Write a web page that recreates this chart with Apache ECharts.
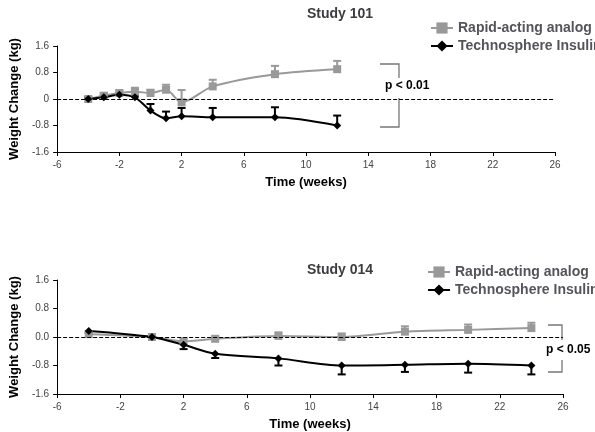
<!DOCTYPE html><html><head><meta charset="utf-8"><script src="https://cdn.jsdelivr.net/npm/echarts@6/dist/echarts.min.js"></script></head><body style="margin:0"><div id="c" style="width:595px;height:432px"></div><script>
const xA=[-4,-3,-2,-1,0,1,2,4,8,12];
const rapidA=[0,0.1,0.18,0.22,0.18,0.28,-0.1,0.38,0.75,0.9];
const rapidAErr=[0.05,0.08,0.07,0.12,0.1,0.15,0.37,0.2,0.25,0.25];
const techA=[0,0.05,0.13,0.05,-0.35,-0.58,-0.52,-0.55,-0.55,-0.8];
const techAErr=[0.05,0.05,0.05,0.05,0.2,0.2,0.25,0.28,0.3,0.3];
const xB=[-4,0,2,4,8,12,16,20,24];
const rapidB=[0.08,0,-0.12,-0.05,0.03,0,0.15,0.2,0.25];
const rapidBErr=[0.05,0.05,0.08,0.06,0.1,0.1,0.15,0.15,0.15];
const techB=[0.17,0,-0.22,-0.47,-0.6,-0.8,-0.78,-0.75,-0.8];
const techBErr=[0.05,0.05,0.12,0.12,0.2,0.25,0.2,0.25,0.25];
const yTicksA=v=>v===0?'0':String(v);
const yTicksB=v=>v.toFixed(1);
const GRAY='#999',BLACK='#000';
function pts(x,y){return x.map((v,i)=>[v,y[i]]);}
function err(name,x,y,e,dir,color,gi){
 return {type:'custom',xAxisIndex:gi,yAxisIndex:gi,z:1,silent:true,data:x.map((v,i)=>[v,y[i],y[i]+dir*e[i]]),
  renderItem:(p,api)=>{const a=api.coord([api.value(0),api.value(1)]),b=api.coord([api.value(0),api.value(2)]);
   return {type:'group',children:[{type:'line',shape:{x1:a[0],y1:a[1],x2:b[0],y2:b[1]},style:{stroke:color,lineWidth:2}},
   {type:'line',shape:{x1:b[0]-4,y1:b[1],x2:b[0]+4,y2:b[1]},style:{stroke:color,lineWidth:2}}]};}};
}
function line(name,x,y,color,sym,gi,ml){
 const s={name,type:'line',xAxisIndex:gi,yAxisIndex:gi,data:pts(x,y),smooth:0.3,symbol:sym,symbolSize:8,
  lineStyle:{color,width:2},itemStyle:{color},z:3};
 if(ml)s.markLine={silent:true,symbol:'none',label:{show:false},lineStyle:{color:'#000',type:'dashed',width:1},data:[{yAxis:0}]};
 return s;
}
const axX=gi=>({type:'value',gridIndex:gi,min:-6,max:26,interval:4,name:'Time (weeks)',nameLocation:'middle',nameGap:24,
 nameTextStyle:{fontWeight:'bold',fontSize:13,fontFamily:'Liberation Sans'},
 axisLine:{onZero:false,lineStyle:{color:'#000'}},axisTick:{show:true,length:4},axisLabel:{fontSize:10,color:'#444',fontFamily:'Liberation Sans'},splitLine:{show:false}});
const axY=(gi,f)=>({type:'value',gridIndex:gi,min:-1.6,max:1.6,interval:0.8,name:'Weight Change (kg)',nameLocation:'middle',nameGap:30,
 nameTextStyle:{fontWeight:'bold',fontSize:13,fontFamily:'Liberation Sans'},
 axisLine:{show:true,onZero:false,lineStyle:{color:'#000'}},axisTick:{show:true,length:4},axisLabel:{fontSize:10,color:'#444',formatter:f,fontFamily:'Liberation Sans'},splitLine:{show:false}});
const bs={stroke:'#777',lineWidth:1.3,fill:null};
const lt={fontSize:14,fontWeight:'bold',fontFamily:'Liberation Sans'};
const c=echarts.init(document.getElementById('c'));
c.setOption({animation:false,
 title:[{text:'Study 101',left:335,top:2,textAlign:'center',textStyle:{fontSize:14,fontWeight:'bold',fontFamily:'Liberation Sans'}},
  {text:'Study 014',left:335,top:258,textAlign:'center',textStyle:{fontSize:14,fontWeight:'bold',fontFamily:'Liberation Sans'}}],
 legend:[{orient:'vertical',left:425,top:16,itemGap:4,itemWidth:22,data:['Rapid-acting analog','Technosphere Insulin'],textStyle:lt},
  {orient:'vertical',left:422,top:260,itemGap:4,itemWidth:22,data:['Rapid-acting analog','Technosphere Insulin '],textStyle:lt}],
 grid:[{left:48,right:40,top:46,height:106},{left:45,right:32,top:280,height:125}],
 xAxis:[axX(0),axX(1)],yAxis:[axY(0,yTicksA),axY(1,yTicksB)],
 series:[
  err('e1',xA,rapidA,rapidAErr,1,GRAY,0),err('e2',xA,techA,techAErr,1,BLACK,0),
  line('Rapid-acting analog',xA,rapidA,GRAY,'rect',0,true),line('Technosphere Insulin',xA,techA,BLACK,'diamond',0),
  err('e3',xB,rapidB,rapidBErr,1,GRAY,1),err('e4',xB,techB,techBErr,-1,BLACK,1),
  line('Rapid-acting analog',xB,rapidB,GRAY,'rect',1,true),line('Technosphere Insulin ',xB,techB,BLACK,'diamond',1)],
 graphic:[
  {type:'polyline',shape:{points:[[380,64],[399,64],[399,78]]},style:bs},
  {type:'polyline',shape:{points:[[399,98],[399,127],[380,127]]},style:bs},
  {type:'text',left:385,top:80,style:{text:'p < 0.01',font:'bold 12px Liberation Sans',fill:'#000'}},
  {type:'polyline',shape:{points:[[548,325],[562,325],[562,340]]},style:bs},
  {type:'polyline',shape:{points:[[562,360],[562,372],[548,372]]},style:bs},
  {type:'text',left:546,top:344,style:{text:'p < 0.05',font:'bold 12px Liberation Sans',fill:'#000'}}]
});
</script></body></html>
